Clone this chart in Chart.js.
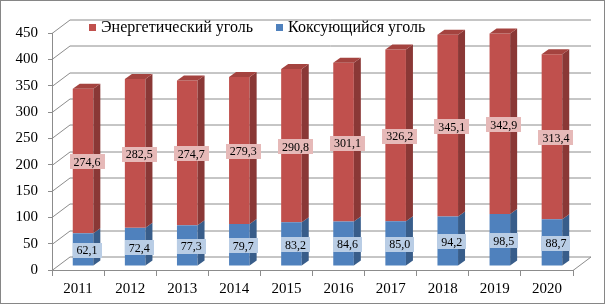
<!DOCTYPE html>
<html><head><meta charset="utf-8">
<script src="https://cdn.jsdelivr.net/npm/chart.js@4/dist/chart.umd.min.js"></script>
<style>html,body{margin:0;padding:0;background:#fff}#wrap{position:relative;width:605px;height:304px}canvas{display:block}</style>
</head><body><div id="wrap"><canvas id="c" width="605" height="304"></canvas></div>
<script>
const years = ['2011','2012','2013','2014','2015','2016','2017','2018','2019','2020'];
const steamCoal = [274.6,282.5,274.7,279.3,290.8,301.1,326.2,345.1,342.9,313.4];
const cokingCoal = [62.1,72.4,77.3,79.7,83.2,84.6,85.0,94.2,98.5,88.7];
const seriesNames = ['Энергетический уголь','Коксующийся уголь'];
const yMin = 0, yMax = 450, yStep = 50;

const FONT = "'Liberation Serif','Times New Roman',serif";
const RED = '#C0504D', RED_SIDE = '#8A3836', RED_TOP = '#A4433F';
const BLUE = '#4F81BD', BLUE_SIDE = '#385D8A';
const RED_LBL = '#E6B9B8', BLUE_LBL = '#B9CDE5';
const GRID = '#8C8C8C';
const WALL_DX = 18, WALL_DY = -13.5;   // depth of the 3D box
const BAR_DX = 5, BAR_DY = -4;          // bar front plane offset
const SIDE_DX = 7, SIDE_DY = -5;        // bar depth

function fmt(v){ return v.toFixed(1).replace('.', ','); }

const threeD = {
  id: 'threeD',
  beforeDraw(chart){
    const {ctx, chartArea:a, scales:{y}} = chart;
    ctx.save();
    ctx.fillStyle = '#fff';
    ctx.fillRect(0,0,chart.width,chart.height);
    ctx.strokeStyle = GRID; ctx.lineWidth = 1;
    y.ticks.forEach(t => {
      const py = Math.round(y.getPixelForValue(t.value)) + 0.5;
      ctx.beginPath();
      ctx.moveTo(a.left, py);
      ctx.lineTo(a.left + WALL_DX, py + WALL_DY);
      ctx.lineTo(a.right + WALL_DX, py + WALL_DY);
      ctx.stroke();
    });
    const p0 = Math.round(y.getPixelForValue(0)) + 0.5;
    ctx.beginPath();
    ctx.moveTo(a.right, p0);
    ctx.lineTo(a.right + WALL_DX, p0 + WALL_DY);
    ctx.stroke();
    ctx.restore();
  },
  beforeDatasetsDraw(chart){
    chart.ctx.save();
    chart.ctx.translate(BAR_DX, BAR_DY);
  },
  afterDatasetsDraw(chart){
    const ctx = chart.ctx;
    ctx.restore();
    const nDs = chart.data.datasets.length;
    chart.data.datasets.forEach((ds, di) => {
      const meta = chart.getDatasetMeta(di);
      meta.data.forEach(bar => {
        const p = bar.getProps(['x','y','base','width'], true);
        const xl = p.x - p.width/2 + BAR_DX, xr = p.x + p.width/2 + BAR_DX;
        const yt = p.y + BAR_DY, yb = p.base + BAR_DY;
        ctx.fillStyle = ds.sideColor;
        ctx.beginPath();
        ctx.moveTo(xr, yt); ctx.lineTo(xr + SIDE_DX, yt + SIDE_DY);
        ctx.lineTo(xr + SIDE_DX, yb + SIDE_DY); ctx.lineTo(xr, yb);
        ctx.closePath(); ctx.fill();
        if (di === nDs - 1) {
          ctx.fillStyle = ds.topColor;
          ctx.beginPath();
          ctx.moveTo(xl, yt); ctx.lineTo(xl + SIDE_DX, yt + SIDE_DY);
          ctx.lineTo(xr + SIDE_DX, yt + SIDE_DY); ctx.lineTo(xr, yt);
          ctx.closePath(); ctx.fill();
        }
      });
    });
    ctx.save();
    ctx.font = '12px ' + FONT;
    ctx.textAlign = 'center'; ctx.textBaseline = 'middle';
    chart.data.datasets.forEach((ds, di) => {
      const meta = chart.getDatasetMeta(di);
      meta.data.forEach((bar, i) => {
        const p = bar.getProps(['x','y','base'], true);
        const txt = fmt(ds.data[i]);
        const cx = p.x + BAR_DX + 4, cy = (p.y + p.base)/2 + BAR_DY + 1;
        const w = ctx.measureText(txt).width + 8, h = 15;
        ctx.fillStyle = ds.labelBg;
        ctx.fillRect(Math.round(cx - w/2), Math.round(cy - h/2), Math.round(w), h);
        ctx.fillStyle = '#000';
        ctx.fillText(txt, cx, Math.round(cy) + 0.5);
      });
    });
    ctx.restore();
  },
  afterDraw(chart){
    const ctx = chart.ctx;
    ctx.save();
    ctx.font = '16px ' + FONT;
    ctx.textBaseline = 'middle'; ctx.textAlign = 'left';
    const items = [[chart.data.datasets[1], 89], [chart.data.datasets[0], 276]];
    items.forEach(([ds, x]) => {
      ctx.fillStyle = ds.backgroundColor;
      ctx.fillRect(x, 24, 7, 7);
      ctx.fillStyle = '#000';
      ctx.fillText(ds.label, x + 12, 28);
    });
    ctx.strokeStyle = '#868686'; ctx.lineWidth = 1;
    ctx.strokeRect(0.5, 0.5, chart.width - 1, chart.height - 1);
    ctx.restore();
  }
};

new Chart(document.getElementById('c'), {
  type: 'bar',
  data: {
    labels: years,
    datasets: [
      { label: seriesNames[1], data: cokingCoal, backgroundColor: BLUE, sideColor: BLUE_SIDE, topColor: BLUE, labelBg: BLUE_LBL, borderWidth: 0 },
      { label: seriesNames[0], data: steamCoal, backgroundColor: RED, sideColor: RED_SIDE, topColor: RED_TOP, labelBg: RED_LBL, borderWidth: 0 }
    ]
  },
  options: {
    responsive: false, animation: false, devicePixelRatio: 1,
    layout: { padding: { left: 0, top: 33, right: 32, bottom: 0 } },
    datasets: { bar: { categoryPercentage: 1, barPercentage: 0.395, clip: false } },
    plugins: { legend: { display: false }, tooltip: { enabled: false } },
    scales: {
      x: {
        stacked: true,
        grid: { display: true, drawOnChartArea: false, drawTicks: true, tickLength: 6, color: GRID, offset: true },
        border: { display: true, color: GRID },
        ticks: { color: '#000', font: { family: FONT, size: 15 }, padding: 4, maxRotation: 0 },
        afterFit(s){ s.height = 34; }
      },
      y: {
        stacked: true, min: yMin, max: yMax,
        grid: { display: true, drawOnChartArea: false, drawTicks: true, tickLength: 4, color: GRID },
        border: { display: true, color: GRID },
        ticks: { stepSize: yStep, color: '#000', font: { family: FONT, size: 15 }, padding: 10 },
        afterFit(s){ s.width = 52; }
      }
    }
  },
  plugins: [threeD]
});
</script></body></html>
